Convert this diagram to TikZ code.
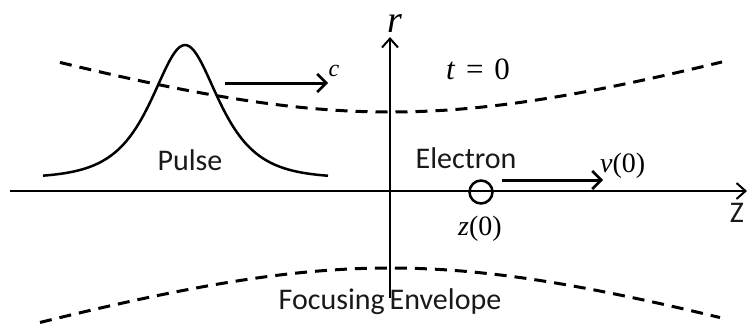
\documentclass[tikz,border=0pt]{standalone}
\usepackage{fontspec}
\setmainfont{Liberation Serif}
\newfontfamily\calibri{Carlito}
\usetikzlibrary{arrows.meta,positioning}

\begin{document}
\begin{tikzpicture}[
    x=1pt, y=-1pt,
    axis/.style={line width=2pt, -{Straight Barb[length=9pt, width=16pt, line width=2pt]}},
    arrow/.style={line width=3pt, -{Straight Barb[length=9pt, width=18pt, line width=2.5pt]}},
    envelope/.style={line width=3pt, dash pattern=on 12pt off 8pt},
    sanslabel/.style={font=\calibri\fontsize{30}{30}\selectfont, text=black!90, inner sep=0pt},
    seriflabel/.style={inner sep=0pt}
  ]
    \useasboundingbox (0,0) rectangle (748,324);

    % axes
    \coordinate (zleft) at (10,191);
    \coordinate (zright) at (747,191);
    \coordinate (rbottom) at (390,298);
    \coordinate (rtop) at (390,37);
    \draw[axis] (zleft) -- (zright);
    \draw[axis] (rbottom) -- (rtop);
    \node[seriflabel, font=\rmfamily\fontsize{38}{38}\selectfont] (rlabel) at (395,24) {\textit{r}};
    \node[sanslabel] (zlabel) at (737,213) {Z};

    % focusing envelope
    \draw[envelope] plot[domain=60:722, samples=80] (\x, {190-78*sqrt(1+((\x-390)/255)^2)});
    \draw[envelope] plot[domain=40:720, samples=80] (\x, {190+78*sqrt(1+((\x-390)/255)^2)});
    \node[sanslabel] (envlabel) at (390,302) {Focusing\,Envelope};
    \node[seriflabel, font=\rmfamily\fontsize{31}{31}\selectfont] (time) at (478,69) {\textit{t}\hspace{0.35em}=\hspace{0.35em}0};

    % pulse
    \draw[line width=2.5pt] plot[domain=43:328, samples=120] (\x, {178-133/cosh((\x-185)/30)});
    \node[sanslabel] (pulse) at (190,160) {Pulse};
    \coordinate (ctail) at (225,83);
    \coordinate (ctip) at (328,83);
    \draw[arrow] (ctail) -- (ctip);
    \node[seriflabel, font=\rmfamily\fontsize{24}{24}\selectfont] (clabel) at (334,71) {\textit{c}};

    % electron
    \node[draw, circle, line width=2.5pt, minimum size=23pt, inner sep=0pt] (electron) at (481,192) {};
    \node[sanslabel] (elabel) at (466,158) {Electron};
    \node[seriflabel, font=\rmfamily\fontsize{28}{28}\selectfont] (zpos) at (480,229) {\textit{z}(0)};
    \node[seriflabel, font=\rmfamily\fontsize{28}{28}\selectfont, anchor=west] (vlabel) at (600,166) {\textit{v}(0)};
    \coordinate (vtail) at (502,180);
    \coordinate (vtip) at (603,180);
    \draw[arrow] (vtail) -- (vtip);
  \end{tikzpicture}
\end{document}
